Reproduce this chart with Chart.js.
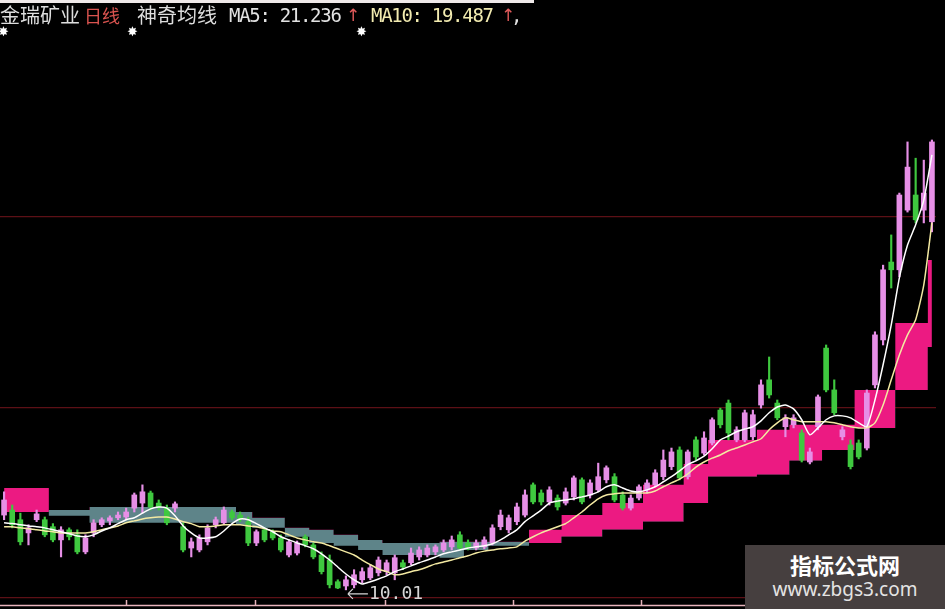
<!DOCTYPE html>
<html>
<head>
<meta charset="utf-8">
<script src="https://cdn.jsdelivr.net/npm/chart.js@4.4.1/dist/chart.umd.min.js"></script>
<style>
  html, body { margin: 0; padding: 0; background: #000; }
  #wrap { position: relative; width: 945px; height: 609px; overflow: hidden; background: #000; }
  #kline { position: absolute; left: 0; top: 0; }
  .t { position: absolute; top: 3px; line-height: 24px; white-space: pre; }
  .cjk { font-family: "Noto Sans CJK SC", sans-serif; font-size: 20px; color: #dedede; }
  .mono { font-family: "DejaVu Sans Mono", monospace; font-size: 19px; letter-spacing: -1.3px; }
  .up { color: #e05a5a; font-family: "DejaVu Sans", sans-serif; font-size: 17px; }
  .star { position: absolute; top: 24px; color: #fff; font-family: "DejaVu Sans", sans-serif; font-size: 13px; line-height: 16px; }
  #strip { position: absolute; left: 0; top: 0; width: 534px; height: 3px; background: #efe9e9; }
  #mark { position: absolute; left: 745px; top: 545px; width: 200px; height: 64px; background: #463f3f; text-align: center; }
  #mark .a { font-family: "Noto Sans CJK SC", sans-serif; font-weight: bold; font-size: 22px; color: #fff; line-height: 26px; margin-top: 6px; }
  #mark .b { font-family: "Noto Sans", sans-serif; font-size: 19px; color: #e4e4e4; line-height: 24px; }
</style>
</head>
<body>
<div id="wrap">
  <canvas id="kline" width="945" height="609"></canvas>
  <div id="strip"></div>
  <span class="t cjk" style="left:0px">金瑞矿业</span>
  <span class="t cjk" style="left:84px; color:#d9534f; font-size:18px">日线</span>
  <span class="t cjk" style="left:137px">神奇均线</span>
  <span class="t mono" style="left:229px; color:#e2e2e2">MA5: 21.236</span>
  <span class="t up" style="left:346px">↑</span>
  <span class="t mono" style="left:371px; color:#f2ebb0">MA10: 19.487</span>
  <span class="t up" style="left:501px">↑</span>
  <span class="t mono" style="left:511px; color:#e2e2e2">,</span>
  <span class="star" style="left:-2px">✸</span>
  <span class="star" style="left:127px">✸</span>
  <span class="star" style="left:356px">✸</span>
  <div id="mark"><div class="a">指标公式网</div><div class="b">www.zbgs3.com</div></div>
</div>
<script>
// 日线 K 线数据
const opens = [
  11.94, 12.07, 11.82, 11.48, 11.82, 11.82, 11.64, 11.30, 11.56, 11.43,
  10.99, 11.48, 11.69, 11.79, 11.87, 11.89, 12.12, 12.25, 12.51, 12.25,
  12.12, 12.12, 11.64, 11.09, 11.04, 11.25, 11.69, 11.74, 12.02, 11.94,
  11.77, 11.22, 11.56, 11.51, 11.35, 10.91, 10.96, 11.38, 11.17, 10.91,
  10.78, 10.22, 10.11, 10.14, 10.27, 10.32, 10.45, 10.48, 10.45, 10.71,
  10.71, 10.86, 10.91, 10.99, 11.04, 11.12, 11.43, 11.22, 11.09, 11.12,
  11.22, 11.64, 11.56, 11.77, 11.94, 12.72, 12.51, 12.28, 12.38, 12.25,
  12.41, 12.85, 12.46, 12.59, 12.85, 12.93, 12.46, 12.12, 12.38, 12.59,
  12.72, 12.93, 13.19, 13.62, 12.93, 13.88, 13.54, 13.80, 14.65, 14.83,
  13.88, 13.88, 13.96, 14.78, 15.43, 14.83, 14.22, 14.27, 14.06, 13.31,
  14.22, 16.25, 15.17, 13.96, 13.75, 13.80, 13.67, 15.30, 16.46, 18.47,
  18.27, 19.81, 20.20, 19.81, 19.51
];
const highs = [
  12.54, 12.20, 11.99, 11.69, 12.07, 11.89, 11.72, 11.64, 11.61, 11.56,
  11.43, 11.82, 11.87, 11.92, 12.02, 12.12, 12.51, 12.72, 12.56, 12.33,
  12.20, 12.28, 11.74, 11.35, 11.43, 11.69, 11.89, 12.15, 12.07, 12.02,
  11.89, 11.56, 11.61, 11.56, 11.43, 11.30, 11.27, 11.43, 11.22, 10.99,
  10.91, 10.27, 10.37, 10.53, 10.58, 10.66, 10.86, 10.78, 10.91, 10.78,
  11.09, 11.12, 11.17, 11.17, 11.30, 11.40, 11.51, 11.30, 11.30, 11.38,
  11.69, 12.07, 11.94, 12.25, 12.59, 12.77, 12.59, 12.67, 12.46, 12.64,
  12.95, 12.90, 12.85, 13.28, 13.21, 13.01, 12.54, 12.46, 12.72, 12.85,
  13.11, 13.62, 13.67, 13.70, 13.62, 13.96, 14.09, 14.45, 14.70, 14.91,
  14.22, 14.65, 14.65, 15.43, 16.02, 14.91, 14.53, 14.53, 14.14, 13.67,
  15.04, 16.33, 15.43, 14.22, 13.88, 13.88, 15.17, 16.67, 18.39, 19.17,
  20.25, 21.57, 21.15, 21.10, 21.62
];
const lows = [
  11.82, 11.61, 11.17, 11.17, 11.77, 11.38, 11.25, 10.86, 11.30, 10.94,
  10.94, 11.38, 11.64, 11.69, 11.82, 11.82, 12.02, 11.99, 12.07, 12.07,
  11.69, 12.02, 10.99, 10.86, 10.99, 11.17, 11.61, 11.69, 11.82, 11.77,
  11.15, 11.15, 11.25, 11.30, 10.99, 10.86, 10.91, 11.12, 10.81, 10.42,
  10.06, 10.04, 10.01, 10.06, 10.19, 10.27, 10.37, 10.40, 10.27, 10.53,
  10.66, 10.78, 10.86, 10.91, 10.99, 11.04, 11.04, 11.04, 11.04, 11.07,
  11.17, 11.56, 11.48, 11.69, 11.89, 12.23, 12.20, 12.20, 12.07, 12.20,
  12.33, 12.23, 12.38, 12.54, 12.77, 12.28, 12.07, 12.07, 12.33, 12.51,
  12.67, 12.85, 13.11, 12.85, 12.87, 13.36, 13.49, 13.75, 14.19, 13.88,
  13.83, 13.83, 13.88, 14.70, 14.96, 14.40, 13.96, 14.19, 13.31, 13.26,
  14.14, 15.12, 14.53, 13.88, 13.13, 13.39, 13.62, 15.22, 16.33, 17.80,
  18.09, 19.76, 19.48, 19.48, 19.25
];
const closes = [
  12.33, 11.69, 11.25, 11.61, 11.97, 11.43, 11.30, 11.56, 11.38, 10.99,
  11.35, 11.74, 11.82, 11.87, 11.94, 12.02, 12.46, 12.54, 12.15, 12.15,
  11.74, 12.23, 11.04, 11.25, 11.35, 11.61, 11.82, 12.07, 11.87, 11.84,
  11.22, 11.51, 11.30, 11.35, 11.04, 11.25, 11.22, 11.17, 10.86, 10.48,
  10.14, 10.06, 10.27, 10.40, 10.48, 10.58, 10.78, 10.71, 10.84, 10.60,
  10.96, 11.04, 11.09, 11.12, 11.22, 11.30, 11.09, 11.09, 11.22, 11.30,
  11.61, 11.94, 11.87, 12.15, 12.46, 12.28, 12.28, 12.59, 12.15, 12.54,
  12.90, 12.28, 12.77, 12.93, 13.16, 12.33, 12.12, 12.38, 12.67, 12.77,
  13.03, 13.36, 13.57, 12.90, 13.57, 13.44, 13.93, 14.40, 14.27, 14.06,
  14.14, 14.58, 14.53, 15.30, 15.04, 14.45, 14.45, 14.45, 13.36, 13.57,
  14.99, 15.17, 14.58, 14.14, 13.19, 13.44, 15.09, 16.59, 18.27, 18.27,
  20.20, 20.92, 19.56, 20.25, 21.57
];
// 均线（白 MA5，黄 MA10）
const ma5 = [
  11.74, 11.72, 11.69, 11.66, 11.64, 11.61, 11.56, 11.51, 11.46, 11.40,
  11.38, 11.43, 11.53, 11.61, 11.72, 11.82, 11.87, 11.99, 12.10, 12.15,
  12.12, 11.92, 11.66, 11.48, 11.35, 11.35, 11.38, 11.53, 11.72, 11.84,
  11.82, 11.72, 11.61, 11.51, 11.38, 11.30, 11.22, 11.15, 11.07, 10.94,
  10.78, 10.60, 10.42, 10.27, 10.16, 10.22, 10.29, 10.37, 10.48, 10.55,
  10.63, 10.71, 10.78, 10.86, 10.94, 10.99, 11.04, 11.09, 11.12, 11.15,
  11.20, 11.30, 11.43, 11.56, 11.77, 11.92, 12.07, 12.25, 12.30, 12.33,
  12.36, 12.41, 12.46, 12.54, 12.67, 12.72, 12.64, 12.56, 12.54, 12.59,
  12.67, 12.80, 12.93, 13.08, 13.24, 13.34, 13.46, 13.65, 13.88, 13.98,
  14.09, 14.16, 14.22, 14.37, 14.58, 14.73, 14.78, 14.68, 14.40, 14.01,
  14.19, 14.40, 14.50, 14.50, 14.45, 14.32, 14.22, 14.91, 15.82, 16.85,
  18.06, 18.91, 19.43, 20.07, 21.236
];
const ma10 = [
  11.64, 11.64, 11.61, 11.59, 11.56, 11.53, 11.51, 11.48, 11.48, 11.48,
  11.48, 11.51, 11.56, 11.61, 11.66, 11.74, 11.79, 11.84, 11.87, 11.89,
  11.89, 11.84, 11.77, 11.72, 11.64, 11.64, 11.66, 11.69, 11.69, 11.69,
  11.66, 11.64, 11.59, 11.53, 11.51, 11.43, 11.35, 11.30, 11.25, 11.22,
  11.15, 11.07, 10.99, 10.91, 10.78, 10.66, 10.55, 10.48, 10.40, 10.42,
  10.48, 10.53, 10.60, 10.68, 10.73, 10.78, 10.84, 10.89, 10.96, 11.01,
  11.04, 11.07, 11.09, 11.12, 11.27, 11.38, 11.48, 11.56, 11.64, 11.72,
  11.87, 12.02, 12.20, 12.36, 12.46, 12.49, 12.51, 12.51, 12.51, 12.51,
  12.56, 12.67, 12.77, 12.87, 13.00, 13.18, 13.31, 13.41, 13.49, 13.60,
  13.67, 13.75, 13.83, 13.91, 14.14, 14.32, 14.45, 14.40, 14.35, 14.35,
  14.35, 14.35, 14.32, 14.27, 14.22, 14.19, 14.19, 14.32, 14.78, 15.43,
  16.07, 16.59, 16.98, 17.88, 19.487
];
// 神奇均线 带状区（两条阶梯线）
const bandA = [
  12.64, 12.64, 12.64, 12.64, 12.64, 12.64, 11.92, 11.92, 11.92, 11.92,
  11.92, 11.74, 11.74, 11.74, 11.74, 11.74, 11.74, 11.74, 11.74, 11.74,
  11.74, 11.74, 11.74, 11.74, 11.74, 11.74, 11.74, 11.74, 11.74, 11.69,
  11.69, 11.61, 11.61, 11.61, 11.61, 11.38, 11.38, 11.38, 11.22, 11.22,
  11.22, 11.15, 11.15, 11.15, 11.04, 11.04, 11.04, 10.91, 10.91, 10.91,
  10.91, 10.91, 10.91, 10.91, 10.84, 10.84, 10.84, 11.04, 11.04, 11.04,
  11.15, 11.15, 11.15, 11.15, 11.15, 11.56, 11.56, 11.56, 11.56, 11.94,
  11.94, 11.94, 11.94, 11.94, 12.25, 12.25, 12.25, 12.25, 12.25, 12.72,
  12.72, 12.72, 12.72, 12.72, 13.26, 13.26, 13.26, 13.88, 13.88, 13.88,
  13.88, 13.88, 13.88, 14.14, 14.14, 14.14, 14.14, 14.27, 14.27, 14.27,
  14.27, 14.27, 14.27, 14.27, 14.27, 15.17, 15.17, 15.17, 15.17, 15.17,
  16.90, 16.90, 16.90, 16.90, 18.52
];
const bandB = [
  12.02, 12.02, 12.02, 12.02, 12.02, 12.02, 12.07, 12.07, 12.07, 12.07,
  12.07, 12.15, 12.15, 12.15, 12.15, 12.15, 12.15, 12.15, 12.15, 12.15,
  12.15, 12.15, 12.15, 12.15, 12.15, 12.15, 12.15, 12.15, 12.15, 12.02,
  12.02, 11.87, 11.87, 11.87, 11.87, 11.61, 11.61, 11.61, 11.56, 11.56,
  11.56, 11.43, 11.43, 11.43, 11.30, 11.30, 11.30, 11.22, 11.22, 11.22,
  11.22, 11.22, 11.22, 11.22, 11.25, 11.25, 11.25, 11.25, 11.25, 11.25,
  11.25, 11.25, 11.25, 11.25, 11.25, 11.22, 11.22, 11.22, 11.22, 11.38,
  11.38, 11.38, 11.38, 11.38, 11.56, 11.56, 11.56, 11.56, 11.56, 11.77,
  11.77, 11.77, 11.77, 11.77, 12.25, 12.25, 12.25, 12.93, 12.93, 12.93,
  12.93, 12.93, 12.93, 12.98, 12.98, 12.98, 12.98, 13.34, 13.34, 13.34,
  13.34, 13.62, 13.62, 13.62, 13.62, 14.19, 14.19, 14.19, 14.19, 14.19,
  15.17, 15.17, 15.17, 15.17, 16.28
];
const gridPrices = [9.80, 14.71, 19.63];
const days = opens.map((_, i) => String(i + 1));

const UP = '#e68fe6';
const DOWN = '#3fc83f';
const candleColor = ctx => closes[ctx.dataIndex] >= opens[ctx.dataIndex] ? UP : DOWN;

// 最低价标注 + 底部时间轴线
const extras = {
    id: 'extras',
    afterDatasetsDraw(chart) {
        const { ctx, scales: { x, y } } = chart;
        const lowest = Math.min(...lows);
        const idx = lows.indexOf(lowest);
        const px = x.getPixelForValue(idx);
        const py = y.getPixelForValue(lowest) + 4;
        ctx.save();
        ctx.strokeStyle = '#d6d6d6';
        ctx.lineWidth = 1.2;
        ctx.beginPath();
        ctx.moveTo(px + 2, py); ctx.lineTo(px + 22, py);
        ctx.moveTo(px + 2, py); ctx.lineTo(px + 7, py - 5);
        ctx.moveTo(px + 2, py); ctx.lineTo(px + 7, py + 5);
        ctx.stroke();
        ctx.fillStyle = '#d6d6d6';
        ctx.font = '18px "DejaVu Sans Mono"';
        ctx.textBaseline = 'middle';
        ctx.fillText(lowest.toFixed(2), px + 23, py);
        // 底部时间轴
        ctx.strokeStyle = '#e7b3bb';
        ctx.lineWidth = 1.5;
        ctx.beginPath();
        ctx.moveTo(0, 605.5); ctx.lineTo(chart.width, 605.5);
        [126, 255, 385, 513, 641].forEach(t => { ctx.moveTo(t + 0.5, 600); ctx.lineTo(t + 0.5, 605); });
        ctx.stroke();
        ctx.restore();
    }
};

new Chart(document.getElementById('kline'), {
    type: 'bar',
    data: {
        labels: days,
        datasets: [
            {
                type: 'line',
                label: 'bandA',
                data: bandA,
                stepped: 'middle',
                borderWidth: 0,
                borderColor: 'rgba(0,0,0,0)',
                pointRadius: 0,
                fill: { target: '+1', above: '#ec1a82', below: '#5e8489' },
                order: 10
            },
            {
                type: 'line',
                label: 'bandB',
                data: bandB,
                stepped: 'middle',
                borderWidth: 0,
                borderColor: 'rgba(0,0,0,0)',
                pointRadius: 0,
                fill: false,
                order: 9
            },
            {
                label: 'wick',
                data: lows.map((l, i) => [l, highs[i]]),
                backgroundColor: candleColor,
                barThickness: 1.5,
                grouped: false,
                order: 4
            },
            {
                label: 'body',
                data: opens.map((o, i) => [o, closes[i]]),
                backgroundColor: candleColor,
                barThickness: 5,
                grouped: false,
                order: 3
            },
            {
                type: 'line',
                label: 'MA10',
                data: ma10,
                borderColor: '#f3e9a2',
                borderWidth: 1.5,
                pointRadius: 0,
                tension: 0.2,
                order: 2
            },
            {
                type: 'line',
                label: 'MA5',
                data: ma5,
                borderColor: '#ffffff',
                borderWidth: 1.5,
                pointRadius: 0,
                tension: 0.2,
                order: 1
            }
        ]
    },
    options: {
        responsive: false,
        animation: false,
        events: [],
        layout: { padding: { top: 28, bottom: 11, left: 0, right: 9 } },
        plugins: {
            legend: { display: false },
            tooltip: { enabled: false }
        },
        scales: {
            x: { display: false, offset: true },
            y: {
                min: 9.80,
                max: 24.51,
                ticks: { display: false },
                border: { display: false },
                grid: { color: '#5c1016', lineWidth: 1.2, drawTicks: false },
                afterBuildTicks: s => { s.ticks = gridPrices.map(v => ({ value: v })); },
                afterFit: s => { s.width = 0; }
            }
        }
    },
    plugins: [extras]
});
</script>
</body>
</html>
